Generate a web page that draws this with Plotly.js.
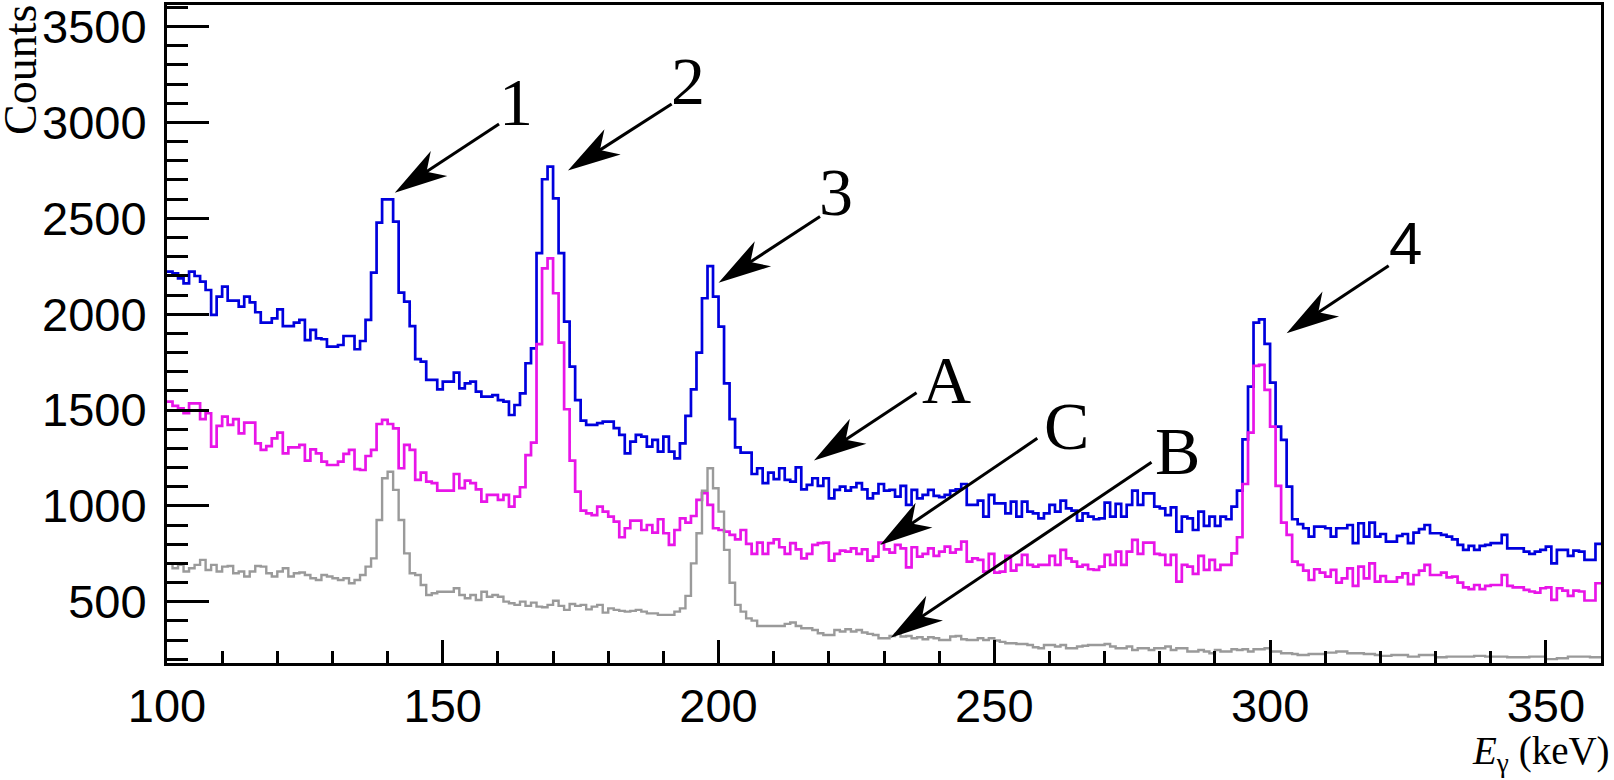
<!DOCTYPE html>
<html>
<head>
<meta charset="utf-8">
<script src="https://cdn.plot.ly/plotly-3.0.1.min.js"></script>
<style>html,body{margin:0;padding:0;background:#fff;}#chart{width:1614px;height:780px;}</style>
</head>
<body>
<div id="chart"></div>
<script>
// ---- data: 1 keV bins starting at 100 keV ----
const binStart = 100;   // keV
const binWidth = 1;     // keV

const blueCounts = [
2222,2213,2187,2161,2222,2199,2170,2126,1996,2091,
2144,2071,2071,2039,2091,2062,2010,1956,1956,1978,
2025,1938,1938,1956,1970,1865,1918,1874,1869,1831,
1831,1839,1886,1886,1817,1860,1970,2217,2478,2599,
2599,2483,2112,2065,1938,1765,1752,1657,1657,1608,
1648,1648,1695,1613,1639,1648,1596,1570,1570,1578,
1552,1544,1474,1526,1587,1744,1822,2318,2704,2770,
2604,2318,1961,1726,1552,1445,1422,1422,1431,1439,
1439,1405,1370,1274,1335,1370,1361,1309,1344,1283,
1361,1283,1248,1326,1469,1608,1799,2083,2251,2091,
1935,1639,1452,1305,1278,1278,1166,1196,1118,1173,
1139,1196,1135,1126,1201,1086,1109,1144,1104,1144,
1039,1083,1100,1079,1097,1118,1086,1039,1065,1114,
1079,1083,1048,1104,1005,1083,1039,1057,1083,1052,
1045,1057,1079,1086,1114,1005,1005,1027,944,1057,
1013,1013,961,1022,944,1022,970,961,935,961,
1005,970,1027,987,975,923,961,944,930,935,
1017,944,1010,944,1005,1079,1005,1065,1065,996,
987,952,992,865,944,935,874,970,895,944,
895,944,930,996,1079,1347,1622,1956,1973,1845,
1643,1413,1344,1100,930,905,883,839,891,891,
883,839,883,883,900,805,909,839,912,839,
853,813,813,843,853,805,860,878,900,857,
857,848,839,825,796,770,791,770,791,796,
805,805,848,778,778,778,761,749,761,770,
787,700,770,770,739,766,761,718,718,801
];

const magentaCounts = [
1544,1521,1509,1483,1535,1535,1452,1483,1309,1417,
1465,1422,1452,1378,1434,1434,1326,1292,1312,1352,
1382,1274,1305,1305,1318,1236,1295,1274,1231,1213,
1213,1231,1271,1292,1191,1187,1260,1292,1427,1448,
1427,1404,1196,1318,1292,1135,1173,1126,1118,1079,
1079,1079,1166,1092,1131,1118,1086,1022,1057,1057,
1031,1057,996,1048,1097,1265,1330,1844,2239,2291,
2109,1851,1504,1236,1074,975,961,952,996,970,
944,918,836,883,923,923,874,900,860,930,
857,796,874,935,912,947,1031,1066,1005,883,
874,865,848,825,874,801,749,808,749,805,
825,784,749,805,773,726,749,796,805,808,
714,749,766,761,778,749,773,714,735,808,
773,756,796,778,679,784,735,749,778,739,
761,787,756,773,813,709,726,718,657,749,
652,657,739,662,692,744,692,683,692,692,
739,692,770,726,709,683,692,669,666,683,
744,692,761,692,761,822,749,808,808,749,
744,692,744,605,692,683,645,739,666,718,
666,692,692,752,836,1114,1382,1730,1735,1605,
1413,1104,912,848,709,692,662,613,669,652,
631,666,599,622,674,582,683,622,700,605,
634,605,605,627,648,592,639,662,692,639,
639,652,627,631,599,575,565,587,565,582,
587,587,639,582,575,575,561,553,547,570,
575,509,570,558,530,558,553,506,506,596
];

const grayCounts = [
700,674,692,657,674,692,718,665,692,657,
683,686,648,657,631,657,686,683,648,631,
657,674,631,648,652,639,622,613,639,631,
622,613,622,596,613,639,683,726,926,1144,
1178,1083,926,752,648,639,587,535,544,552,
552,552,570,535,518,535,509,552,526,535,
526,500,492,483,500,478,495,474,471,483,
505,478,457,488,478,483,460,474,483,443,
465,457,452,448,452,457,448,439,439,431,
431,431,448,465,530,700,857,1079,1196,1092,
970,770,599,483,448,413,401,373,373,373,
373,373,384,391,373,361,361,352,335,326,
326,352,344,356,344,352,339,332,326,309,
309,321,332,318,321,309,314,304,314,309,
300,300,318,321,304,300,300,309,300,309,
297,290,283,283,279,279,274,262,257,274,
274,266,274,257,257,266,270,274,274,274,
279,266,257,257,266,248,257,257,248,257,
257,266,248,257,257,240,240,248,240,231,
248,240,240,252,248,252,240,252,252,257,
240,240,231,231,227,222,222,227,227,227,
234,234,240,240,231,231,231,227,227,222,
217,217,222,222,222,213,213,222,222,222,
210,210,213,213,213,213,213,217,217,213,
213,213,213,210,210,210,210,213,213,213,
200,200,205,205,213,213,213,213,210,210
];

// arrow annotations (keV, counts)
const arrowLabels = ['1','2','3','4','A','B','C'];
const arrowTipE   = [141.3, 172.7, 200.0, 303.0, 217.3, 231.2, 229.3];
const arrowTipC   = [2634, 2749, 2164, 1900, 1236, 312, 796];
const arrowTailE  = [160.2, 191.5, 218.4, 321.5, 235.9, 278.5, 257.8];
const arrowTailC  = [2992, 3097, 2509, 2253, 1590, 1227, 1352];
const labelE      = [163.2, 194.4, 221.3, 324.6, 241.4, 283.2, 263.0];
const labelC      = [3109, 3215, 2639, 2370, 1655, 1288, 1417];

// ---- layout geometry ----
const W = 1614, H = 780;
const M = {l:167, r:13, t:5, b:117};
const xRange = [100, 360];
const yRange = [180, 3613];
const plotW = W - M.l - M.r, plotH = H - M.t - M.b;
const pxX = plotW / (xRange[1]-xRange[0]);
const pxY = plotH / (yRange[1]-yRange[0]);

function histTrace(counts, color, width) {
  const x = counts.map((_, i) => binStart + i*binWidth);
  x.push(binStart + counts.length*binWidth);
  const y = counts.slice(); y.push(counts[counts.length-1]);
  return {x, y, type:'scatter', mode:'lines', line:{shape:'hv', color, width}, hoverinfo:'skip', showlegend:false};
}

const traces = [
  histTrace(blueCounts, '#0000dd', 2.7),
  histTrace(magentaCounts, '#e815e8', 2.7),
  histTrace(grayCounts, '#9a9a9a', 2.4)
];

const shapes = [];
const annotations = [];
const HEAD_L = 53, HEAD_W = 15, HEAD_N = 38;
for (let i = 0; i < arrowLabels.length; i++) {
  const dx = (arrowTailE[i]-arrowTipE[i])*pxX;
  const dy = (arrowTailC[i]-arrowTipC[i])*pxY;
  const len = Math.hypot(dx, dy);
  const ux = dx/len, uy = dy/len;
  const px = -uy, py = ux;
  const f = v => v.toFixed(2);
  const path = 'M0,0 L' + f(ux*HEAD_L+px*HEAD_W) + ',' + f(uy*HEAD_L+py*HEAD_W) +
               ' L' + f(ux*HEAD_N) + ',' + f(uy*HEAD_N) +
               ' L' + f(ux*HEAD_L-px*HEAD_W) + ',' + f(uy*HEAD_L-py*HEAD_W) + ' Z';
  shapes.push({type:'line', xref:'x', yref:'y',
    x0: arrowTailE[i], y0: arrowTailC[i],
    x1: arrowTipE[i] + ux*(HEAD_N-2)/pxX, y1: arrowTipC[i] + uy*(HEAD_N-2)/pxY,
    line:{color:'#000', width:3}});
  shapes.push({type:'path', xref:'x', yref:'y', xsizemode:'pixel', ysizemode:'pixel',
    xanchor: arrowTipE[i], yanchor: arrowTipC[i], path,
    fillcolor:'#000', line:{width:0}});
  const sans = arrowLabels[i] === '4';
  annotations.push({xref:'x', yref:'y', x: labelE[i], y: labelC[i], text: arrowLabels[i],
    showarrow:false, xanchor:'center', yanchor:'middle',
    font:{family: sans ? 'Liberation Sans' : 'Liberation Serif', size: sans ? 60 : 68, color:'#000'}});
}

annotations.push({xref:'paper', yref:'paper', x:(20-M.l)/plotW, y:1, yshift:2,
  xanchor:'center', yanchor:'top', textangle:-90, showarrow:false, text:'Counts',
  font:{family:'Liberation Serif', size:46, color:'#000'}});
annotations.push({xref:'paper', yref:'paper', x:1, y:0, xshift:11, yshift:-90,
  xanchor:'right', yanchor:'middle', showarrow:false,
  text:'<i>E</i><sub>γ</sub> (keV)',
  font:{family:'Liberation Serif', size:39, color:'#000'}});

const tickFont = {family:'Liberation Sans', size:47, color:'#000'};
const layout = {
  width: W, height: H, autosize:false,
  margin: M,
  paper_bgcolor:'#fff', plot_bgcolor:'#fff',
  showlegend:false,
  xaxis: {range:xRange, showline:true, linewidth:3, linecolor:'#000', mirror:true,
    ticks:'inside', ticklen:23, tickwidth:3, tickcolor:'#000', tick0:0, dtick:50,
    minor:{ticks:'inside', dtick:10, ticklen:12, tickwidth:3, tickcolor:'#000'},
    showgrid:false, zeroline:false, tickfont:tickFont, ticklabelstandoff:0},
  yaxis: {range:yRange, showline:true, linewidth:3, linecolor:'#000', mirror:true,
    ticks:'inside', ticklen:42, tickwidth:3, tickcolor:'#000', tick0:0, dtick:500,
    minor:{ticks:'inside', dtick:100, ticklen:21, tickwidth:3, tickcolor:'#000'},
    showgrid:false, zeroline:false, tickfont:tickFont, ticklabelstandoff:8},
  shapes, annotations
};

Plotly.newPlot('chart', traces, layout, {staticPlot:true, displayModeBar:false});
</script>
</body>
</html>
